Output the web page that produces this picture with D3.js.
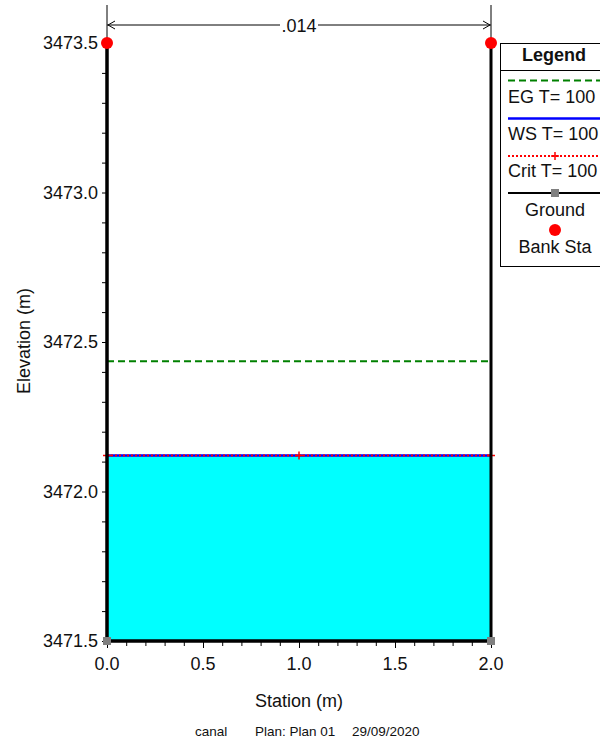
<!DOCTYPE html>
<html>
<head>
<meta charset="utf-8">
<script src="https://cdn.jsdelivr.net/npm/d3@7"></script>
<style>
  body { margin: 0; background: #fff; }
  svg { display: block; font-family: "Liberation Sans", Arial, sans-serif; }
  .tick-label { font-size: 18px; fill: #111; }
  .axis-title { font-size: 18px; fill: #111; }
  .legend-text { font-size: 18px; fill: #111; }
  .footer { font-size: 13.5px; fill: #111; }
</style>
</head>
<body>
<div id="chart"></div>
<script>
// cross section data
const groundSta = [0, 0, 2, 2];
const groundElev = [3473.5, 3471.5, 3471.5, 3473.5];
const bankSta = [0, 2];
const bankElev = [3473.5, 3473.5];
const egElev = 3472.436;
const wsElev = 3472.12;
const critElev = 3472.12;
const critMarkSta = [0, 1, 2];
const nStart = [0];
const nEnd = [2];
const nLabels = [".014"];
const xTicks = [0, 0.5, 1, 1.5, 2];
const yTicks = [3471.5, 3472.0, 3472.5, 3473.0, 3473.5];
const legendItems = ["EG T= 100", "WS T= 100", "Crit T= 100", "Ground", "Bank Sta"];

const W = 600, H = 742;
const svg = d3.select("#chart").append("svg")
  .attr("width", W).attr("height", H);

const x = d3.scaleLinear().domain([0, 2]).range([107, 491]);
const y = d3.scaleLinear().domain([3471.5, 3473.5]).range([641, 43]);

const ground = groundSta.map((s, i) => ({s: s, e: groundElev[i]}));

// water fill
svg.append("rect")
  .attr("x", x(0)).attr("y", y(wsElev))
  .attr("width", x(2) - x(0)).attr("height", y(3471.5) - y(wsElev))
  .attr("fill", "#00ffff");

// EG line
svg.append("line")
  .attr("x1", x(0)).attr("x2", x(2))
  .attr("y1", y(egElev)).attr("y2", y(egElev))
  .attr("stroke", "#008000").attr("stroke-width", 2)
  .attr("stroke-dasharray", "7,4");

// WS line
svg.append("line")
  .attr("x1", x(0)).attr("x2", x(2))
  .attr("y1", y(wsElev)).attr("y2", y(wsElev))
  .attr("stroke", "#0000ff").attr("stroke-width", 2.5);

// Crit line
svg.append("line")
  .attr("x1", x(0)).attr("x2", x(2))
  .attr("y1", y(critElev)).attr("y2", y(critElev))
  .attr("stroke", "#ff0000").attr("stroke-width", 2)
  .attr("stroke-dasharray", "2,2");

svg.selectAll(".crit-mark")
  .data(critMarkSta)
  .join("path")
    .attr("class", "crit-mark")
    .attr("d", d => `M${x(d) - 4},${y(critElev)}h8M${x(d)},${y(critElev) - 4}v8`)
    .attr("stroke", "#ff0000").attr("stroke-width", 1.5);

// n value lines
nStart.forEach((s, i) => {
  const x0 = x(s), x1 = x(nEnd[i]);
  svg.append("line").attr("x1", x0).attr("x2", x0).attr("y1", 5).attr("y2", 43)
    .attr("stroke", "#000").attr("stroke-width", 1);
  svg.append("line").attr("x1", x1).attr("x2", x1).attr("y1", 5).attr("y2", 43)
    .attr("stroke", "#000").attr("stroke-width", 1);
  svg.append("line").attr("x1", x0).attr("x2", x1).attr("y1", 25).attr("y2", 25)
    .attr("stroke", "#000").attr("stroke-width", 1);
  svg.append("path").attr("d", `M${x0 + 8},${21}L${x0 + 1},25L${x0 + 8},29`)
    .attr("fill", "none").attr("stroke", "#000").attr("stroke-width", 1);
  svg.append("path").attr("d", `M${x1 - 8},${21}L${x1 - 1},25L${x1 - 8},29`)
    .attr("fill", "none").attr("stroke", "#000").attr("stroke-width", 1);
  const mx = (x0 + x1) / 2;
  svg.append("rect").attr("x", mx - 19).attr("y", 16).attr("width", 38).attr("height", 18)
    .attr("fill", "#fff");
  svg.append("text").attr("class", "tick-label")
    .attr("x", mx).attr("y", 32).attr("text-anchor", "middle")
    .text(nLabels[i]);
});

// Ground
svg.append("path")
  .datum(ground)
  .attr("fill", "none")
  .attr("stroke", "#000").attr("stroke-width", 3)
  .attr("d", d3.line().x(d => x(d.s)).y(d => y(d.e)));

// Axes
const yAxis = svg.append("g")
  .attr("transform", `translate(${x(0)},0)`)
  .call(d3.axisLeft(y).tickValues(d3.range(0, 21).map(i => 3471.5 + i * 0.1))
    .tickSize(5).tickFormat(""));
yAxis.select(".domain").remove();
yAxis.selectAll("line").attr("stroke", "#000");
svg.selectAll(".ylab")
  .data(yTicks)
  .join("text")
    .attr("class", "tick-label ylab")
    .attr("x", 98).attr("y", d => y(d) + 6)
    .attr("text-anchor", "end")
    .text(d => d.toFixed(1));

const xAxis = svg.append("g")
  .attr("transform", `translate(0,${y(3471.5)})`)
  .call(d3.axisBottom(x).tickValues(d3.range(0, 21).map(i => i * 0.1))
    .tickSize(5).tickFormat(""));
xAxis.select(".domain").remove();
xAxis.selectAll("line").attr("stroke", "#000");
svg.append("g")
  .attr("transform", `translate(0,${y(3471.5)})`)
  .call(d3.axisBottom(x).tickValues(xTicks).tickSize(7).tickFormat(""))
  .call(g => g.select(".domain").remove())
  .selectAll("line").attr("stroke", "#000");
svg.selectAll(".xlab")
  .data(xTicks)
  .join("text")
    .attr("class", "tick-label xlab")
    .attr("x", d => x(d)).attr("y", 670)
    .attr("text-anchor", "middle")
    .text(d => d.toFixed(1));

// axis lines on top
svg.append("line").attr("x1", x(0)).attr("x2", x(0)).attr("y1", y(3473.5)).attr("y2", y(3471.5))
  .attr("stroke", "#000").attr("stroke-width", 3);
svg.append("line").attr("x1", x(0)).attr("x2", x(2)).attr("y1", y(3471.5)).attr("y2", y(3471.5))
  .attr("stroke", "#000").attr("stroke-width", 3);

svg.selectAll(".gmark")
  .data(ground.filter(d => d.e < 3473.5))
  .join("rect")
    .attr("class", "gmark")
    .attr("x", d => x(d.s) - 4).attr("y", d => y(d.e) - 4)
    .attr("width", 8).attr("height", 8)
    .attr("fill", "#808080");

// Bank stations
svg.selectAll(".bank")
  .data(bankSta)
  .join("circle")
    .attr("class", "bank")
    .attr("cx", d => x(d)).attr("cy", (d, i) => y(bankElev[i]))
    .attr("r", 6).attr("fill", "#ff0000");

// titles
svg.append("text").attr("class", "axis-title")
  .attr("transform", "translate(30,341) rotate(-90)")
  .attr("text-anchor", "middle")
  .text("Elevation (m)");
svg.append("text").attr("class", "axis-title")
  .attr("x", 299).attr("y", 707).attr("text-anchor", "middle")
  .text("Station (m)");
svg.append("text").attr("class", "footer").attr("x", 195).attr("y", 736).text("canal");
svg.append("text").attr("class", "footer").attr("x", 255).attr("y", 736).text("Plan: Plan 01");
svg.append("text").attr("class", "footer").attr("x", 352).attr("y", 736).text("29/09/2020");

// Legend
const lg = svg.append("g").attr("transform", "translate(500,43)");
lg.append("rect").attr("x", 0.5).attr("y", 0.5).attr("width", 130).attr("height", 223)
  .attr("fill", "#fff").attr("stroke", "#000").attr("stroke-width", 1);
lg.append("line").attr("x1", 0).attr("x2", 130).attr("y1", 27.5).attr("y2", 27.5)
  .attr("stroke", "#000");
lg.append("text").attr("class", "legend-text")
  .attr("x", 54).attr("y", 18).attr("text-anchor", "middle")
  .attr("font-weight", "bold").text("Legend");
// sample lines
lg.append("line").attr("x1", 8).attr("x2", 110).attr("y1", 37.5).attr("y2", 37.5)
  .attr("stroke", "#008000").attr("stroke-width", 2).attr("stroke-dasharray", "7,4");
lg.append("line").attr("x1", 8).attr("x2", 110).attr("y1", 75.5).attr("y2", 75.5)
  .attr("stroke", "#0000ff").attr("stroke-width", 2.5);
lg.append("line").attr("x1", 8).attr("x2", 110).attr("y1", 113).attr("y2", 113)
  .attr("stroke", "#ff0000").attr("stroke-width", 2).attr("stroke-dasharray", "2,2");
lg.append("path").attr("d", "M55,109v8M51,113h8").attr("stroke", "#ff0000").attr("stroke-width", 1.5);
lg.append("line").attr("x1", 8).attr("x2", 110).attr("y1", 150).attr("y2", 150)
  .attr("stroke", "#000").attr("stroke-width", 2);
lg.append("rect").attr("x", 51).attr("y", 146).attr("width", 8).attr("height", 8).attr("fill", "#808080");
lg.append("circle").attr("cx", 55).attr("cy", 187).attr("r", 6).attr("fill", "#ff0000");
const legY = [60, 97, 134, 173, 210];
legendItems.forEach((t, i) => {
  lg.append("text").attr("class", "legend-text")
    .attr("x", i < 3 ? 8 : 55).attr("y", legY[i])
    .attr("text-anchor", i < 3 ? "start" : "middle")
    .text(t);
});
</script>
</body>
</html>
